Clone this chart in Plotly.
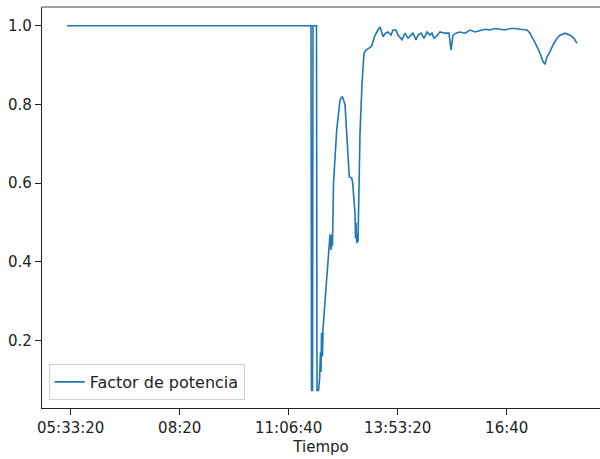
import plotly.graph_objects as go

DAY = "2024-01-01 "

tiempo = [
    "05:27:40", "11:40:45", "11:41:31", "11:43:03", "11:43:49", "11:49:10", "11:49:56", "11:52:13",
    "11:53:45", "11:55:17", "11:56:03", "11:56:49", "11:58:20", "11:59:07",
    "12:09:49", "12:11:20", "12:12:52", "12:13:37", "12:15:09", "12:20:03", "12:25:05", "12:28:37",
    "12:32:44", "12:35:20", "12:39:19", "12:42:59", "12:44:31", "12:48:02", "12:48:49", "12:49:33",
    "12:50:37", "12:51:51", "12:52:38", "12:55:41", "12:58:45", "13:01:49", "13:04:52", "13:09:27",
    "13:13:16", "13:15:34", "13:18:38", "13:23:13", "13:26:16", "13:30:52", "13:33:55", "13:38:30",
    "13:43:05", "13:46:09", "13:50:44", "13:53:47", "13:59:55", "14:04:30", "14:09:05", "14:13:40",
    "14:16:44", "14:21:19", "14:24:22", "14:28:58", "14:33:33", "14:38:08", "14:42:43", "14:45:47",
    "14:48:50", "14:51:54", "14:58:01", "15:05:40", "15:11:47", "15:14:50", "15:17:53", "15:22:29",
    "15:28:36", "15:36:14", "15:43:53", "15:51:32", "15:59:11", "16:06:49", "16:14:28", "16:22:07",
    "16:29:46", "16:37:24", "16:45:03", "16:52:41", "17:00:20", "17:11:02", "17:15:38", "17:20:13",
    "17:26:20", "17:30:55", "17:35:31", "17:38:34", "17:41:37", "17:46:13", "17:50:48", "17:56:55",
    "18:01:30", "18:09:09", "18:16:47", "18:22:55", "18:27:29",
]

factor_potencia = [
    1.0, 1.0, 0.073, 0.073, 1.0, 1.0, 0.073, 0.073,
    0.10, 0.17, 0.12, 0.22, 0.16, 0.23,
    0.47, 0.43, 0.47, 0.44, 0.60, 0.735, 0.811, 0.82,
    0.80, 0.735, 0.616, 0.613, 0.60, 0.523, 0.46, 0.50,
    0.447, 0.47, 0.45, 0.727, 0.854, 0.93, 0.938, 0.943,
    0.947, 0.96, 0.975, 0.989, 0.997, 0.972, 0.98, 0.984,
    0.976, 0.989, 0.989, 0.976, 0.964, 0.981, 0.968, 0.976,
    0.981, 0.964, 0.976, 0.981, 0.968, 0.984, 0.976, 0.981,
    0.968, 0.972, 0.984, 0.981, 0.981, 0.938, 0.976, 0.981,
    0.984, 0.981, 0.989, 0.984, 0.987, 0.991, 0.989, 0.993,
    0.991, 0.989, 0.993, 0.993, 0.991, 0.989, 0.981, 0.968,
    0.947, 0.930, 0.909, 0.902, 0.921, 0.934, 0.951, 0.968,
    0.976, 0.981, 0.976, 0.968, 0.955,
]

x_tick_times = ["05:33:20", "08:20:00", "11:06:40", "13:53:20", "16:40:00"]
x_tick_labels = ["05:33:20", "08:20", "11:06:40", "13:53:20", "16:40"]
y_ticks = [0.2, 0.4, 0.6, 0.8, 1.0]

fig = go.Figure()
fig.add_trace(go.Scatter(
    x=[DAY + t for t in tiempo],
    y=factor_potencia,
    mode="lines",
    name="Factor de potencia",
    line=dict(color="#1f77b4", width=1.6),
))

FONT = "DejaVu Sans"
FS = 15
fig.update_layout(
    width=600, height=459,
    margin=dict(l=42, r=0, t=7, b=51, autoexpand=False),
    paper_bgcolor="white", plot_bgcolor="white",
    font=dict(family=FONT, size=FS, color="#222"),
    showlegend=True,
    legend=dict(
        x=0.012, y=0.02, xanchor="left", yanchor="bottom",
        bgcolor="rgba(255,255,255,0.85)", bordercolor="#d0d0d0", borderwidth=1,
        font=dict(family=FONT, size=16, color="#222"),
    ),
    xaxis=dict(
        type="date", automargin=False,
        range=[DAY + "04:49:27", DAY + "19:02:38"],
        tickvals=[DAY + t for t in x_tick_times],
        ticktext=x_tick_labels,
        showgrid=False, zeroline=False,
        showline=True, linecolor="#222", linewidth=1.2,
        ticks="outside", ticklen=6, tickcolor="#222", tickwidth=1,
        tickfont=dict(family=FONT, size=FS, color="#222"),
        title=dict(text="Tiempo", font=dict(family=FONT, size=FS, color="#222"), standoff=5),
    ),
    yaxis=dict(
        automargin=False,
        range=[0.0285, 1.0475],
        tickvals=y_ticks,
        tickformat=".1f",
        showgrid=False, zeroline=False,
        showline=True, linecolor="#222", linewidth=1.2,
        ticks="outside", ticklen=6, tickcolor="#222", tickwidth=1,
        tickfont=dict(family=FONT, size=FS, color="#222"),
    ),
    shapes=[dict(type="line", xref="paper", yref="paper", x0=0, x1=1, y0=1, y1=1,
                 line=dict(color="#444", width=1.2), layer="above")],
)

fig.write_html("out.html", config={"displayModeBar": False},
               post_script="document.body.style.margin='0';")
